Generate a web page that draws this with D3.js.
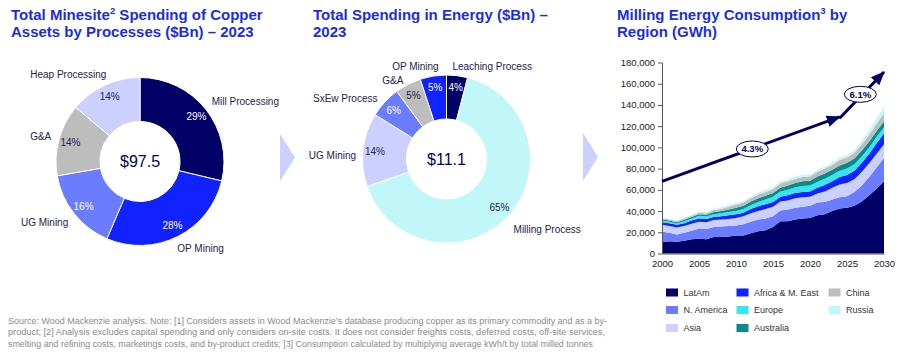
<!DOCTYPE html>
<html><head><meta charset="utf-8">
<script src="https://cdn.jsdelivr.net/npm/d3@7"></script>
<style>
body{margin:0;background:#fff}
svg{display:block}
text{font-family:"Liberation Sans",Arial,sans-serif}
</style>
</head><body>
<svg id="c" width="902" height="355"></svg>
<script>
// ---------------- DATA ----------------
const spendCategories = ["Mill Processing","OP Mining","UG Mining","G&A","Heap Processing"];
const spendValues = [29,28,16,14,14];
const spendTotal = "$97.5";

const energyCategories = ["Leaching Process","Milling Process","UG Mining","SxEw Process","G&A","OP Mining"];
const energyValues = [4,65,14,6,5,5];
const energyTotal = "$11.1";

const years = [2000,2001,2002,2003,2004,2005,2006,2007,2008,2009,2010,2011,2012,2013,2014,2015,
               2016,2017,2018,2019,2020,2021,2022,2023,2024,2025,2026,2027,2028,2029,2030];
const regions = ["LatAm","N. America","Asia","Africa & M. East","Europe","Australia","China","Russia"];
const latAm      = [10500,11500,11000,12000,13500,14000,13500,15500,15500,16000,17000,17000,19000,21000,22000,25000,30500,30500,32000,33000,33500,36000,37000,40000,42500,43000,45000,49000,55000,61000,68000];
const nAmerica   = [10000,8000,7000,7500,8000,9500,9500,9500,10000,10000,9500,10500,11000,11000,11000,10000,10000,11000,11000,11000,11500,12000,11500,11000,10500,11000,13000,15000,17000,20000,22000];
const asia       = [6500,6500,6500,6500,6500,6500,6500,6500,6500,6500,7000,7500,8000,8000,9000,9000,8500,8500,9000,9000,8500,8500,10000,11000,12000,12500,12000,13000,13000,13000,13000];
const africaME   = [2500,2500,2500,2500,3000,3000,3000,3000,3000,3500,3500,3500,4000,4500,4500,4500,4500,5000,5000,5000,5000,5500,6000,6000,7000,7500,8000,8500,9000,10000,10000];
const europe     = [1500,1500,1500,2000,2000,2500,2500,2500,3000,3000,3000,3500,3500,4000,4500,5000,5000,5000,5500,5500,5500,5500,6000,6000,6000,6000,6000,6000,6000,6000,6000];
const australia  = [1000,1000,1000,1200,1300,1500,1500,2000,2000,2500,3000,3000,3500,3500,3500,3500,3500,4000,4000,4500,4500,5000,5000,5000,5000,5500,5500,5500,5500,5500,5500];
const china      = [1000,1000,1000,1200,1300,1500,1500,2000,2000,2500,3000,3000,3000,3500,3500,3500,4000,4000,4000,4000,4000,4500,4500,4500,5000,5000,5500,6000,6500,7000,7500];
const russia     = [700,700,700,800,1000,1000,1000,1200,1500,1500,1500,1500,1500,2000,2000,2000,2000,2000,2000,2000,2000,2000,2000,2000,2000,2000,2500,3000,4000,5000,5500];
const regionSeries = [latAm,nAmerica,asia,africaME,europe,australia,china,russia];

const yTicks = [0,20000,40000,60000,80000,100000,120000,140000,160000,180000];
const xTicks = [2000,2005,2010,2015,2020,2025,2030];

const growthLabels = ["4.3%","6.1%"];
const growthFromYear = [2000,2024];
const growthFromValue = [68000,127500];
const growthToYear = [2024,2030];
const growthToValue = [128800,171000];
const growthLabelYear = [2012.2,2026.8];
const growthLabelValue = [98500,150000];

const footnote = [
 "Source: Wood Mackenzie analysis. Note: [1] Considers assets in Wood Mackenzie\u2019s database producing copper as its primary commodity and as a by-",
 "product; [2] Analysis excludes capital spending and only considers on-site costs. It does not consider freights costs, deferred costs, off-site services,",
 "smelting and refining costs, marketings costs, and by-product credits; [3] Consumption calculated by multiplying average kWh/t by total milled tonnes"
];

// ---------------- STYLE ----------------
const NAVY="#000066", BLUE="#0f22ff", MED="#6b7cff", LAV="#cbd0ff", GRAY="#bdbdbd",
      CYAN="#33e6f2", TEAL="#0b8a8c", PALE="#c2f7f9";
const TITLE="#1a2ee0", LABEL="#23234a";
const regionColors=[NAVY,MED,LAV,BLUE,CYAN,TEAL,GRAY,PALE];

const svg=d3.select("#c");

// ---------------- TITLES ----------------
function title(x, parts1, line2){
  const t=svg.append("text").attr("x",x).attr("y",20).attr("fill",TITLE)
    .attr("font-size",15).attr("font-weight","bold");
  let shift=0;
  parts1.forEach(p=>{
    if(p.sup){ t.append("tspan").attr("font-size",9.5).attr("dy",-6).text(p.sup); shift=6; }
    else { t.append("tspan").attr("dy",shift).text(p.t); shift=0; }
  });
  svg.append("text").attr("x",x).attr("y",37).attr("fill",TITLE)
    .attr("font-size",15).attr("font-weight","bold").text(line2);
}
title(11,[{t:"Total Minesite"},{sup:"2"},{t:" Spending of Copper"}],"Assets by Processes ($Bn) \u2013 2023");
title(313,[{t:"Total Spending in Energy ($Bn) \u2013"}],"2023");
title(617,[{t:"Milling Energy Consumption"},{sup:"3"},{t:" by"}],"Region (GWh)");

// ---------------- CHEVRONS ----------------
[[280,134,295,181],[583,133,598,181]].forEach(c=>{
  svg.append("path").attr("d",`M${c[0]},${c[1]}L${c[2]},${(c[1]+c[3])/2}L${c[0]},${c[3]}Z`)
    .attr("fill","#ccd0ff");
});

// ---------------- DONUTS ----------------
function donut(cx,cy,cats,vals,colors,pctColors,center,anchorFix){
  const data=cats.map((c,i)=>({c,v:vals[i],i}));
  const arcs=d3.pie().sort(null).value(d=>d.v)(data);
  const arc=d3.arc().innerRadius(40).outerRadius(84);
  const g=svg.append("g").attr("transform",`translate(${cx},${cy})`);
  g.selectAll("path.s").data(arcs).join("path").attr("class","s")
    .attr("d",arc).attr("fill",d=>colors[d.data.i])
    .attr("stroke","#fff").attr("stroke-width",1);
  const pa=d3.arc().innerRadius(72).outerRadius(72);
  g.selectAll("text.p").data(arcs).join("text").attr("class","p")
    .attr("x",d=>pa.centroid(d)[0]).attr("y",d=>pa.centroid(d)[1])
    .attr("dy","0.35em").attr("text-anchor","middle").attr("font-size",10)
    .attr("fill",d=>pctColors[d.data.i]).text(d=>d.data.v+"%");
  const la=d3.arc().innerRadius(94).outerRadius(94);
  g.selectAll("text.l").data(arcs).join("text").attr("class","l")
    .attr("x",d=>la.centroid(d)[0]+(anchorFix[d.data.i]||[0,0])[0])
    .attr("y",d=>la.centroid(d)[1]+(anchorFix[d.data.i]||[0,0])[1])
    .attr("dy","0.35em").attr("font-size",10).attr("fill",LABEL)
    .attr("text-anchor",d=>((d.startAngle+d.endAngle)/2<Math.PI)?"start":"end")
    .text(d=>d.data.c);
  g.append("text").attr("dy","0.35em").attr("text-anchor","middle")
    .attr("font-size",16).attr("fill",NAVY).text(center);
}
donut(140,161.5,spendCategories,spendValues,[NAVY,BLUE,MED,GRAY,LAV],
      ["#fff","#fff","#fff",LABEL,LABEL],spendTotal,
      [[-2,-2],[-5,3],[2,3],[2,0],[6,-2]]);
donut(446.5,159,energyCategories,energyValues,[NAVY,PALE,LAV,MED,GRAY,BLUE],
      ["#fff",LABEL,LABEL,"#fff",LABEL,"#fff"],energyTotal,
      [[-6,1],[-2,7],[3,7],[0,3],[0,5],[7,0]]);

// ---------------- AREA CHART ----------------
const x=d3.scaleLinear().domain([2000,2030]).range([662,884]);
const y=d3.scaleLinear().domain([0,180000]).range([253.5,62.5]);
const rows=years.map((yr,i)=>{const r={year:yr};regions.forEach((k,j)=>r[k]=regionSeries[j][i]);return r;});
const stacked=d3.stack().keys(regions)(rows);
const area=d3.area().x(d=>x(d.data.year)).y0(d=>y(d[0])).y1(d=>y(d[1]));
svg.append("g").selectAll("path").data(stacked).join("path")
  .attr("d",area).attr("fill",(d,i)=>regionColors[i]);

const ya=svg.append("g").attr("transform",`translate(${x(2000)},0)`)
  .call(d3.axisLeft(y).tickValues(yTicks).tickFormat(d3.format(",")).tickSize(4).tickSizeOuter(0).tickPadding(3));
ya.selectAll("text").attr("font-size",9.5).attr("fill","#222").attr("font-family","Liberation Sans, Arial, sans-serif");
ya.selectAll("line,path").attr("stroke","#555");
const xa=svg.append("g").attr("transform",`translate(0,${y(0)})`)
  .call(d3.axisBottom(x).tickValues(xTicks).tickFormat(d3.format("d")).tickSize(0).tickSizeOuter(0).tickPadding(7));
xa.selectAll("text").attr("font-size",9.5).attr("fill","#222").attr("font-family","Liberation Sans, Arial, sans-serif");
xa.selectAll("path").attr("stroke","#555");

// growth arrows
const defs=svg.append("defs");
defs.append("marker").attr("id","ah").attr("markerUnits","userSpaceOnUse")
  .attr("markerWidth",14).attr("markerHeight",14).attr("viewBox","0 -6 12 12")
  .attr("refX",11).attr("refY",0).attr("orient","auto")
  .append("path").attr("d","M0,-5L12,0L0,5Z").attr("fill",NAVY);
growthLabels.forEach((lab,i)=>{
  svg.append("line").attr("x1",x(growthFromYear[i])).attr("y1",y(growthFromValue[i]))
    .attr("x2",x(growthToYear[i])).attr("y2",y(growthToValue[i]))
    .attr("stroke",NAVY).attr("stroke-width",3).attr("marker-end","url(#ah)");
});
growthLabels.forEach((lab,i)=>{
  const cx=x(growthLabelYear[i]), cy=y(growthLabelValue[i]);
  svg.append("ellipse").attr("cx",cx).attr("cy",cy).attr("rx",16).attr("ry",8)
    .attr("fill","#fff").attr("stroke",NAVY).attr("stroke-width",1);
  svg.append("text").attr("x",cx).attr("y",cy).attr("dy","0.35em").attr("text-anchor","middle")
    .attr("font-size",9.5).attr("font-weight","bold").attr("fill",NAVY).text(lab);
});

// legend
const legCols=[666,736.5,828.5], legRows=[292.5,310,328];
regions.forEach((r,i)=>{
  const cx=legCols[Math.floor(i/3)], cy=legRows[i%3];
  svg.append("rect").attr("x",cx).attr("y",cy-4).attr("width",12).attr("height",8).attr("fill",regionColors[i]);
  svg.append("text").attr("x",cx+17.5).attr("y",cy).attr("dy","0.35em").attr("font-size",9)
    .attr("fill","#333").text(r);
});

// footnote
const fnW=[599,597,585];
footnote.forEach((s,i)=>{
  svg.append("text").attr("x",8).attr("y",321+i*11.3).attr("dy","0.35em")
    .attr("font-size",8.5).attr("fill","#8a8a8a")
    .attr("font-family","Liberation Sans Narrow, Arial Narrow, Liberation Sans, sans-serif")
    .attr("textLength",fnW[i]).attr("lengthAdjust","spacingAndGlyphs").text(s);
});
</script>
</body></html>
